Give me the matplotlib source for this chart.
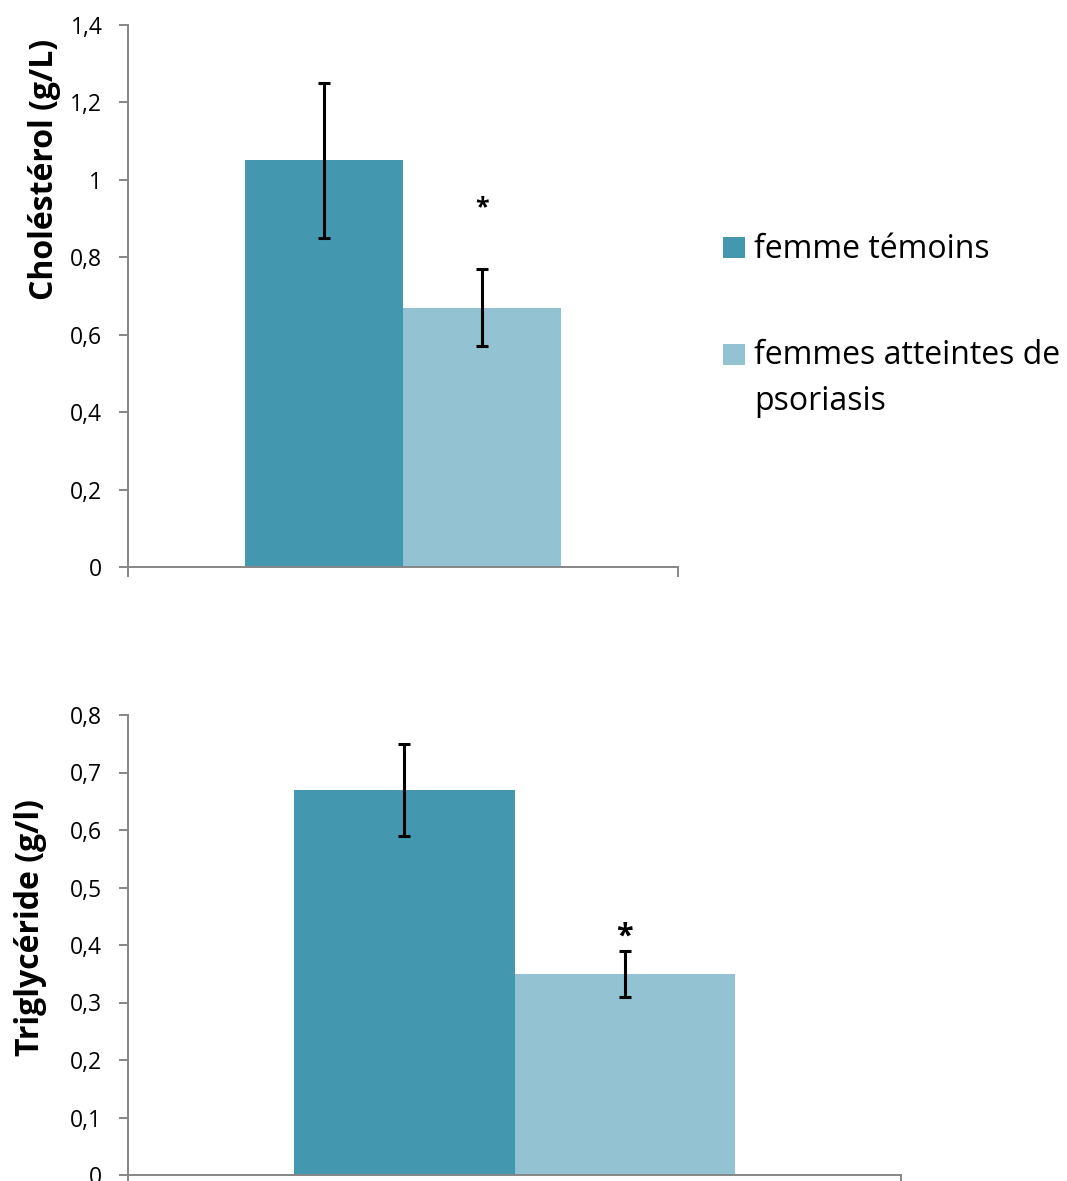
import matplotlib
matplotlib.use("Agg")
import matplotlib.pyplot as plt
from matplotlib.patches import Rectangle

plt.rcParams["font.family"] = ["Open Sans", "DejaVu Sans"]

# Data
groups = ["femme témoins", "femmes atteintes de\npsoriasis"]
colors = ["#4398B0", "#93C2D3"]

chol_mean = [1.05, 0.67]
chol_err = [0.20, 0.10]
chol_star = 0.927

tg_mean = [0.67, 0.35]
tg_err = [0.08, 0.04]
tg_star = 0.414

axis_grey = "#868686"

fig = plt.figure(figsize=(10.67, 11.81), dpi=100)

ax1 = fig.add_axes([128 / 1067, 1 - 567 / 1181, 550 / 1067, 542 / 1181])
ax2 = fig.add_axes([128 / 1067, 1 - 1175 / 1181, 773 / 1067, 460 / 1181])


def draw_panel(ax, means, errs, star_y, ymax, step, bar_w, star_size):
    xs = [-bar_w / 2, bar_w / 2]
    ax.bar(xs, means, width=bar_w, color=colors, linewidth=0, zorder=2)
    ax.errorbar(xs, means, yerr=errs, fmt="none", ecolor="black",
                elinewidth=2.2, capsize=4.5, capthick=2.2, zorder=3)
    ax.text(xs[1], star_y, "*", ha="center", va="center",
            fontsize=star_size, fontweight="bold", zorder=4)

    ax.set_xlim(-0.5, 0.5)
    ax.set_ylim(0, ymax)
    ticks = [round(i * step, 2) for i in range(int(round(ymax / step)) + 1)]
    ax.set_yticks(ticks)
    labels = []
    for t in ticks:
        s = f"{t:.1f}".rstrip("0").rstrip(".") if t != 0 else "0"
        labels.append(s.replace(".", ","))
    ax.set_yticklabels(labels, fontsize=16.5)
    ax.set_xticks([-0.5, 0.5])
    ax.set_xticklabels([])

    for side in ("top", "right"):
        ax.spines[side].set_visible(False)
    for side in ("left", "bottom"):
        ax.spines[side].set_color(axis_grey)
        ax.spines[side].set_linewidth(1.4)
    ax.tick_params(axis="y", direction="out", length=6.5, width=1.4,
                   color=axis_grey, pad=12)
    ax.tick_params(axis="x", direction="out", length=7, width=1.4,
                   color=axis_grey)
    ax.patch.set_alpha(0)


draw_panel(ax1, chol_mean, chol_err, chol_star, 1.4, 0.2, 0.2873, 18)
draw_panel(ax2, tg_mean, tg_err, tg_star, 0.8, 0.1, 0.2853, 22)

fig.text(45 / 1067, 1 - 169 / 1181, "Choléstérol (g/L)", rotation=90,
         ha="center", va="center", fontsize=23, fontweight="bold")
fig.text(31 / 1067, 1 - 928 / 1181, "Triglycéride (g/l)", rotation=90,
         ha="center", va="center", fontsize=23, fontweight="bold")

# Legend beside the top panel: square bottom sits on the first text baseline,
# wrapped labels step down 45 px per extra line
legend_base = [258, 365]
line_step = 45
for color, label, y in zip(colors, groups, legend_base):
    fig.add_artist(Rectangle((723 / 1067, 1 - y / 1181), 22 / 1067, 21 / 1181,
                             transform=fig.transFigure, color=color, linewidth=0))
    last_base = y + line_step * label.count("\n")
    fig.text(754 / 1067, 1 - last_base / 1181, label, ha="left", va="baseline",
             fontsize=23, linespacing=1.52)

fig.savefig("out.png", dpi=100)
